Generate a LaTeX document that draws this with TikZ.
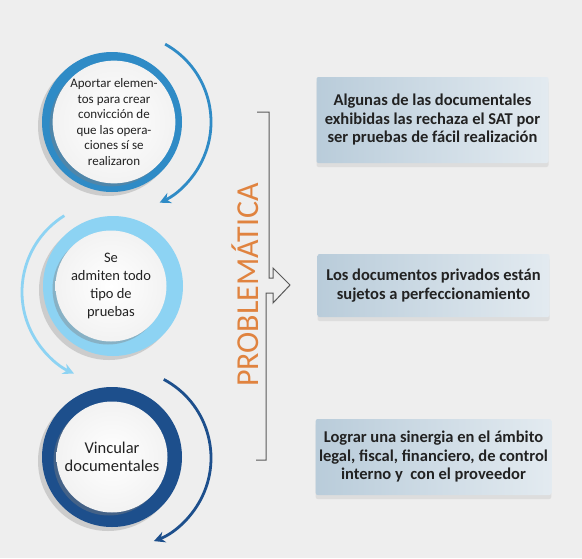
\documentclass[tikz,border=0pt]{standalone}
\usepackage{fontspec}
\setmainfont{Carlito}
\usetikzlibrary{arrows.meta,shadows,positioning}
\definecolor{bgc}{HTML}{EEEEEE}
\definecolor{bluec}{HTML}{2F8BC6}
\definecolor{skyc}{HTML}{8DD3F3}
\definecolor{navyc}{HTML}{1D4F8C}
\definecolor{orangec}{HTML}{E0833F}
\definecolor{boxc}{HTML}{B9CCDA}
\definecolor{txtc}{HTML}{222222}
\tikzset{
  ring/.style={circle,minimum size=140pt,inner sep=0pt,
    drop shadow={shadow xshift=-4pt,shadow yshift=-4pt,opacity=0.3}},
  disc/.style={circle,minimum size=111pt,inner sep=0pt,align=center,text=txtc,
    inner color=white,outer color=gray!10,
    drop shadow={shadow xshift=-3pt,shadow yshift=-3pt,opacity=0.4}},
  turn/.style={line width=2.8pt,-{Stealth[length=11pt,width=11pt]}},
  note/.style={rounded corners=2pt,minimum width=232pt,align=center,text=txtc,
    font=\bfseries\fontsize{16.5}{18.5}\selectfont,
    left color=boxc,middle color=white,right color=boxc!40,
    drop shadow={shadow xshift=0pt,shadow yshift=-4pt,opacity=0.15}}
}
\begin{document}
\begin{tikzpicture}[x=1pt,y=-1pt]
\useasboundingbox (0,0) rectangle (582,558);
\fill[bgc] (0,0) rectangle (582,558);

\draw (112,122) node[ring,fill=bluec] (aportarring) {};
\draw (114,122) node[disc,font=\fontsize{13}{15.5}\selectfont] (aportar)
  {Aportar elemen-\\tos para crear\\convicción de\\que las opera-\\ciones sí se\\realizaron};
\draw[turn,bluec] (122,122) ++(-61:89) arc[start angle=-61,end angle=65,radius=89];

\draw (113,286) node[ring,fill=skyc] (admitenring) {};
\draw (111,286) node[disc,font=\fontsize{14.5}{18}\selectfont] (admiten)
  {Se\\admiten todo\\tipo de\\pruebas};
\draw[turn,skyc] (112,292) ++(238:90) arc[start angle=238,end angle=115,radius=90];

\draw (112,457) node[ring,fill=navyc] (vincularring) {};
\draw (112,457) node[disc,font=\fontsize{16.5}{18}\selectfont] (vincular)
  {Vincular\\documentales};
\draw[turn,navyc] (122,458) ++(-62:89) arc[start angle=-62,end angle=69,radius=89];

\draw (245,285) node[rotate=90,text=orangec,font=\fontsize{32}{32}\selectfont] (probl) {PROBLEMÁTICA};
\draw[gray!70!black,line width=1pt] (257,112) -- (269,112) -- (269,278) -- (273,278) -- (273,268)
  -- (290,285) -- (273,303) -- (273,293) -- (266,293) -- (266,460) -- (256,460);

\draw (432.5,120) node[note,minimum height=86pt] (algunas)
  {Algunas de las documentales\\exhibidas las rechaza el SAT por\\ser pruebas de fácil realización};
\draw (433.5,285.5) node[note,minimum height=63pt] (privados)
  {Los documentos privados están\\sujetos a perfeccionamiento};
\draw (433.5,457) node[note,minimum height=76pt] (sinergia)
  {Lograr una sinergia en el ámbito\\legal, fiscal, financiero, de control\\interno y\ \ con el proveedor};
\end{tikzpicture}
\end{document}
